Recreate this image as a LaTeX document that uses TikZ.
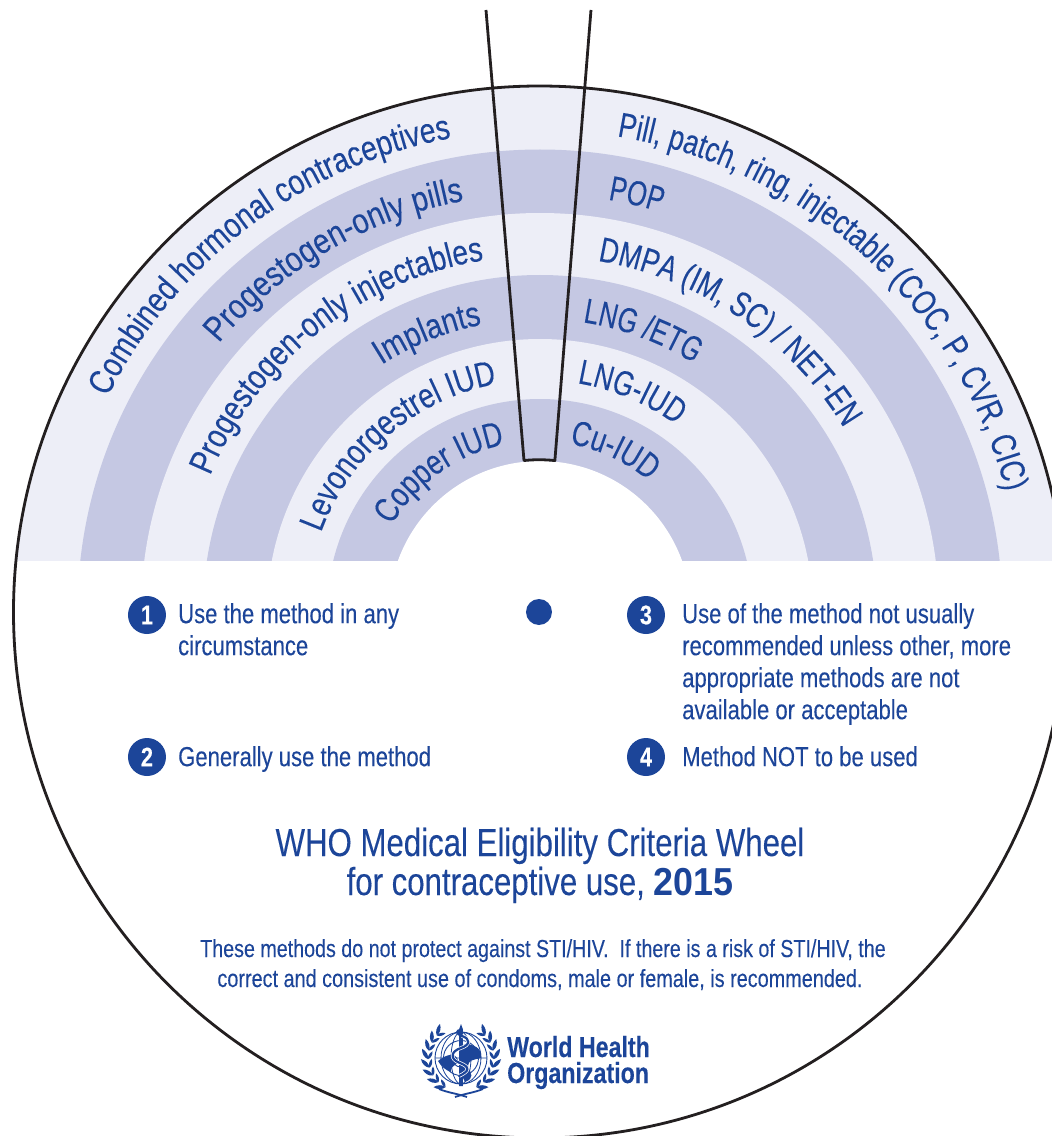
\documentclass[tikz,border=0pt]{standalone}
\usepackage{fontspec}
\setmainfont[FakeStretch=0.80,FakeBold=0.12]{Liberation Sans}
\newfontfamily\yearfont[FakeStretch=0.92]{Liberation Sans}
\usetikzlibrary{decorations.text}
\definecolor{whoblue}{HTML}{1C4599}
\definecolor{bandpale}{HTML}{EDEEF7}
\definecolor{banddark}{HTML}{C5C8E3}
\definecolor{ink}{HTML}{231F20}
\newcommand{\arclabel}[5]{% radius, start angle, end angle, horizontal stretch, text
  \path[decorate,decoration={text along path,text color=whoblue,
    text={|\fontspec[FakeStretch=#4,FakeBold=0.12]{Liberation Sans}\fontsize{35pt}{35pt}\selectfont|#5}}]
    (#2:#1) arc[start angle=#2,end angle=#3,radius=#1];}
\newcommand{\leafshape}{(0,0) .. controls (3,2.6) and (8,2.6) .. (12,0) .. controls (8,-2.6) and (3,-2.6) .. (0,0)}
\tikzset{
  legendbadge/.style={circle,fill=whoblue,minimum size=38pt,inner sep=0pt,text=white,font=\fontsize{27}{27}\selectfont\bfseries},
  legendtext/.style={anchor=north west,align=left,text=whoblue,font=\fontsize{27.6}{32}\selectfont,inner sep=0pt},
  blueline/.style={text=whoblue,anchor=base,inner sep=0pt},
  outline/.style={draw=ink,line width=2.8pt},
}
\begin{document}
\begin{tikzpicture}[x=1pt,y=1pt]
\useasboundingbox (-539,-524) rectangle (513,612);
\clip (-539,-524) rectangle (513,612);
\fill[white] (-539,-524) rectangle (513,612);
% bands (origin = wheel centre)
\begin{scope}
\clip (-539,52) rectangle (513,612);
\fill[bandpale] (0.5,0) circle[radius=526];
\fill[banddark] (1,0) circle[radius=462.5];
\fill[bandpale] (1,0) circle[radius=399];
\fill[banddark] (1,0) circle[radius=337];
\fill[bandpale] (1,0) circle[radius=273];
\fill[banddark] (1,0) circle[radius=213];
\fill[white] (1,0) circle[radius=151];
\end{scope}
% outer circle and window
\draw[outline] (0.5,0) circle[radius=526];
\coordinate (wl) at (-15,151.5);
\coordinate (wr) at (16,151.5);
\coordinate (tl) at (-53,602);
\coordinate (tr) at (52,602);
\draw[outline,line join=round] (tl) -- (wl) arc[start angle=95.7,end angle=84,radius=151.5] -- (tr);
% curved labels, left
\arclabel{482}{153.5}{95}{0.81}{Combined hormonal contraceptives}
\arclabel{418}{140}{85}{0.84}{Progestogen-only pills}
\arclabel{356}{157.5}{85}{0.81}{Progestogen-only injectables}
\arclabel{293}{122.5}{85}{0.823}{Implants}
\arclabel{232}{160}{85}{0.80}{Levonorgestrel IUD}
\arclabel{171}{149.5}{80}{0.775}{Copper IUD}
% curved labels, right
\arclabel{482}{80.7}{0}{0.77}{Pill, patch, ring, injectable (COC, P, CVR, CIC)}
\arclabel{418}{80.5}{50}{0.731}{POP}
\arclabel{356}{80.5}{20}{0.766}{DMPA (IM, SC) / NET-EN}
\arclabel{293}{81.4}{30}{0.731}{LNG /ETG}
\arclabel{232}{80.5}{20}{0.754}{LNG-IUD}
\arclabel{171}{79.7}{10}{0.76}{Cu-IUD}
% legend
\node[circle,fill=whoblue,minimum size=26pt,inner sep=0pt] (hub) at (0,0) {};
\node[legendbadge] (b1) at (-392,-3) {1};
\node[legendbadge] (b2) at (-392,-145) {2};
\node[legendbadge] (b3) at (107,-3) {3};
\node[legendbadge] (b4) at (107,-145) {4};
\node[legendtext] (t1) at (-361,9) {Use the method in any\\circumstance};
\node[legendtext] (t2) at (-361,-134) {Generally use the method};
\node[legendtext] (t3) at (143,9) {Use of the method not usually\\recommended unless other, more\\appropriate methods are not\\available or acceptable};
\node[legendtext] (t4) at (143,-134) {Method NOT to be used};
% title
\node[blueline,font=\fontsize{39}{39}\selectfont] (title1) at (1,-244) {WHO Medical Eligibility Criteria Wheel};
\node[blueline,font=\fontsize{39}{39}\selectfont] (title2) at (1,-283) {for contraceptive use, {\yearfont\bfseries 2015}};
\node[blueline,font=\fontsize{24.6}{24.6}\selectfont] (note1) at (4,-345) {These methods do not protect against STI/HIV.\ \ If there is a risk of STI/HIV, the};
\node[blueline,font=\fontsize{24.8}{24.8}\selectfont] (note2) at (1,-375) {correct and consistent use of condoms, male or female, is recommended.};
% WHO logo
\begin{scope}[shift={(-78,-446)}]
  \draw[whoblue,line width=.9pt] (0,0) circle[radius=26] circle[radius=17.5] circle[radius=9];
  \draw[whoblue,line width=.8pt] (-26,0) -- (26,0) (0,0) ellipse[x radius=10,y radius=26] (0,0) ellipse[x radius=20,y radius=26];
  \fill[whoblue] (-23,-3) .. controls (-14,4) and (-6,6) .. (-3,-2) .. controls (-4,-9) and (-10,-6) .. (-10,-14) .. controls (-16,-12) and (-20,-8) .. (-23,-3);
  \fill[whoblue] (3,14) .. controls (12,14) and (22,10) .. (20,0) .. controls (12,-2) and (7,-2) .. (7,-8) .. controls (10,-16) and (14,-20) .. (4,-24) .. controls (-2,-14) and (0,0) .. (3,14);
  \fill[whoblue] (-1.8,-28) -- (-1.8,29) -- (0,34) -- (1.8,29) -- (1.8,-28) -- cycle;
  \draw[white,line width=3.6pt] (-2,-18) .. controls (9,-13) and (9,-9) .. (-1,-5) .. controls (-12,-1) and (-10,7) .. (0,10) .. controls (9,13) and (10,19) .. (1,22);
  \draw[whoblue,line width=2.2pt,line cap=round] (-2,-18) .. controls (9,-13) and (9,-9) .. (-1,-5) .. controls (-12,-1) and (-10,7) .. (0,10) .. controls (9,13) and (10,19) .. (1,22) .. controls (-5,24) and (-6,28) .. (1,28);
  \foreach \s in {1,-1}{
    \begin{scope}[xscale=\s]
      \foreach \a in {-62,-47,...,50}{
        \fill[whoblue,shift={(\a:33)},rotate=\a+62] \leafshape;
        \fill[whoblue,shift={(\a:33)},rotate=\a+122,scale=.75] \leafshape;
      }
    \end{scope}
  }
  \draw[whoblue,line width=1.8pt] (-22,-31) .. controls (-12,-35) and (-6,-35) .. (6,-39);
  \draw[whoblue,line width=1.8pt] (22,-31) .. controls (12,-35) and (6,-35) .. (-6,-39);
\end{scope}
\node[blueline,anchor=base west,font=\fontsize{29}{29}\selectfont\bfseries] (who1) at (-32,-445) {World Health};
\node[blueline,anchor=base west,font=\fontsize{29}{29}\selectfont\bfseries] (who2) at (-32,-471) {Organization};
\end{tikzpicture}
\end{document}
